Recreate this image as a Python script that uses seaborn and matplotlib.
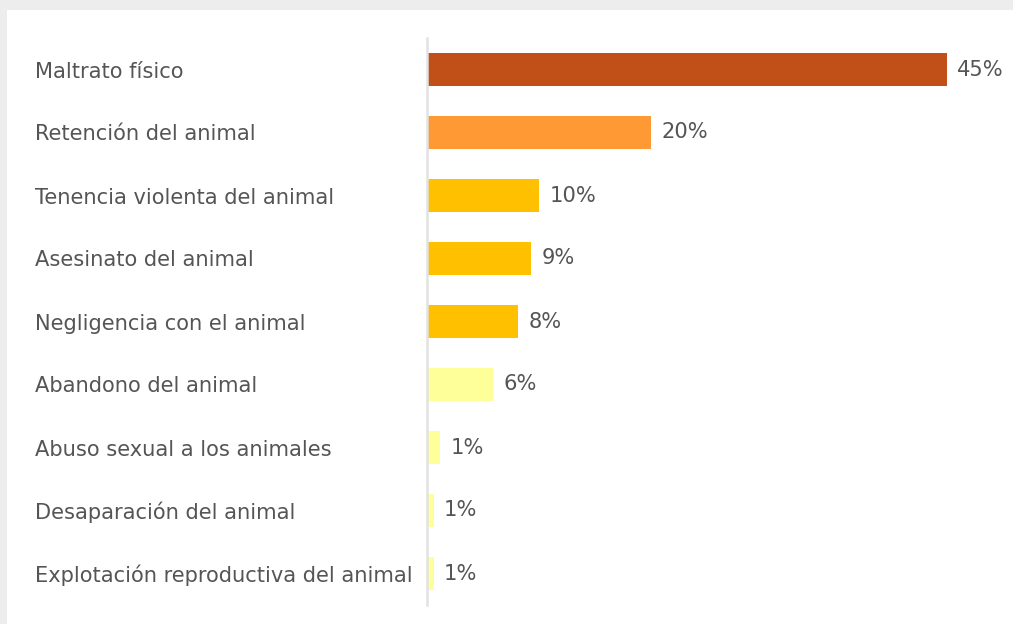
import matplotlib
matplotlib.use("Agg")
import matplotlib.pyplot as plt
import seaborn as sns
import pandas as pd
from matplotlib.patches import Rectangle

categories = [
    "Maltrato físico",
    "Retención del animal",
    "Tenencia violenta del animal",
    "Asesinato del animal",
    "Negligencia con el animal",
    "Abandono del animal",
    "Abuso sexual a los animales",
    "Desaparación del animal",
    "Explotación reproductiva del animal",
]
values = [46.4, 20.0, 10.0, 9.3, 8.1, 5.9, 1.2, 0.6, 0.6]
value_labels = ["45%", "20%", "10%", "9%", "8%", "6%", "1%", "1%", "1%"]
colors = ["#C05018", "#FF9933", "#FFC000", "#FFC000", "#FFC000",
          "#FFFF99", "#FFFF99", "#FFFF99", "#FFFF99"]

sns.set_theme(style="white")
plt.rcParams["font.family"] = ["DejaVu Sans"]

W, H = 1013, 624
fig = plt.figure(figsize=(W / 100, H / 100), dpi=100)
fig.patch.set_facecolor("#EDEDED")
fig.patches.append(Rectangle((7 / W, 0), 1 - 7 / W, 1 - 10 / H,
                             transform=fig.transFigure, facecolor="white",
                             edgecolor="none", zorder=-10))

ax_left, ax_right = 427, 1013
ax_top, ax_bottom = 38, 605
ax = fig.add_axes([ax_left / W, 1 - ax_bottom / H,
                   (ax_right - ax_left) / W, (ax_bottom - ax_top) / H])
ax.set_facecolor("none")

df = pd.DataFrame({"cat": categories, "val": values})
sns.barplot(data=df, x="val", y="cat", hue="cat", palette=colors,
            legend=False, width=0.51, ax=ax, saturation=1, edgecolor="none")

px_per_unit = 11.2
ax.set_xlim(0, (ax_right - ax_left) / px_per_unit)
ax.set_ylim(len(categories) - 0.5, -0.5)
ax.set_xlabel("")
ax.set_ylabel("")
ax.set_xticks([])

for s in ["top", "right", "bottom"]:
    ax.spines[s].set_visible(False)
ax.spines["left"].set_color("#E2E2E2")
ax.spines["left"].set_linewidth(1.8)

fs = 15.1
ax.tick_params(axis="y", length=0, pad=(ax_left - 35) * 0.72)
for lab in ax.get_yticklabels():
    lab.set_ha("left")
    lab.set_color("#555555")
    lab.set_fontsize(fs)

for i, (v, t) in enumerate(zip(values, value_labels)):
    ax.annotate(t, xy=(v, i), xytext=(7.5, 0), textcoords="offset points",
                va="center", ha="left", fontsize=fs, color="#555555")

fig.savefig("out.png", dpi=100, facecolor=fig.get_facecolor())
